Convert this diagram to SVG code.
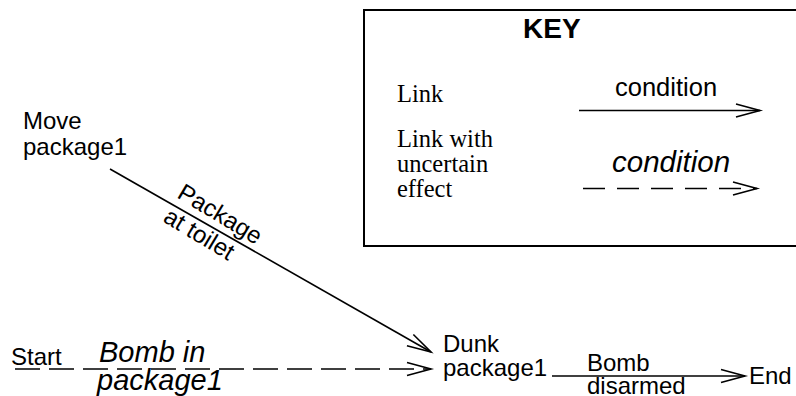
<svg xmlns="http://www.w3.org/2000/svg" width="796" height="396" viewBox="0 0 796 396">
  <defs>
    <marker id="open" markerUnits="userSpaceOnUse" markerWidth="30" markerHeight="20" refX="0" refY="0" viewBox="-26 -10 30 20" orient="auto" overflow="visible">
      <path d="M-24,-6.5 L0,0 L-24,6.5" fill="none" stroke="#000" stroke-width="1.6"/>
    </marker>
    <style>
      .sans { font-family: "Liberation Sans", Arial, sans-serif; font-size: 24px; fill: #000; }
      .ital { font-family: "Liberation Sans", Arial, sans-serif; font-size: 29px; font-style: italic; fill: #000; }
      .serif { font-family: "Liberation Serif", "Times New Roman", serif; font-size: 24.5px; fill: #000; }
      .bold { font-family: "Liberation Sans", Arial, sans-serif; font-size: 28px; font-weight: bold; fill: #000; }
      .link { fill: none; stroke: #000; stroke-width: 1.6; marker-end: url(#open); }
      .uncertain { stroke-dasharray: 25 9; }
    </style>
  </defs>
  <rect width="796" height="396" fill="#fff"/>

  <!-- legend box -->
  <g id="key">
    <rect x="364" y="10" width="440" height="236" fill="none" stroke="#000" stroke-width="2"/>
    <text class="bold" x="523" y="38">KEY</text>
    <text class="serif" x="397" y="102">Link</text>
    <text class="sans" x="615" y="96" style="font-size:25.5px">condition</text>
    <line class="link" x1="579" y1="110.5" x2="760" y2="110.5"/>
    <text class="serif" x="397" y="147">Link with</text>
    <text class="serif" x="397" y="172">uncertain</text>
    <text class="serif" x="397" y="197">effect</text>
    <text class="ital" x="612" y="172" style="font-size:29.5px">condition</text>
    <line class="link" x1="583" y1="188.5" x2="757" y2="188.5" style="stroke-dasharray:22 12"/>
  </g>

  <!-- nodes -->
  <g id="move-package1">
    <text class="sans" x="23" y="129">Move</text>
    <text class="sans" x="23" y="155">package1</text>
  </g>
  <g id="start">
    <text class="sans" x="11" y="365">Start</text>
  </g>
  <g id="dunk-package1">
    <text class="sans" x="443" y="352">Dunk</text>
    <text class="sans" x="443" y="376">package1</text>
  </g>
  <g id="end">
    <text class="sans" x="749" y="384">End</text>
  </g>

  <!-- connectors -->
  <g id="connectors">
    <line class="link" x1="110" y1="169" x2="431" y2="352"/>
    <g transform="translate(176,197) rotate(31)">
      <text class="sans" x="0" y="0">Package</text>
    </g>
    <g transform="translate(162,221) rotate(31)">
      <text class="sans" x="0" y="0">at toilet</text>
    </g>

    <line class="link uncertain" x1="15" y1="369" x2="431" y2="369"/>
    <text class="ital" x="99" y="362">Bomb in</text>
    <text class="ital" x="97" y="390">package1</text>

    <line class="link" x1="552" y1="376" x2="745" y2="376"/>
    <text class="sans" x="587" y="371">Bomb</text>
    <text class="sans" x="587" y="394">disarmed</text>
  </g>
</svg>
